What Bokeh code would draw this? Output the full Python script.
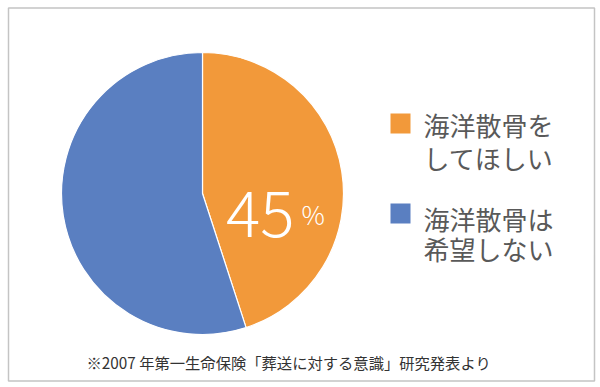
from math import pi
from bokeh.plotting import figure
from bokeh.models import Range1d
from bokeh.core.properties import value
from bokeh.embed import file_html
from bokeh.resources import INLINE

# data
categories = ["海洋散骨をしてほしい", "海洋散骨は希望しない"]
legend_lines = [["海洋散骨を", "してほしい"], ["海洋散骨は", "希望しない"]]
shares = [45, 55]
colors = ["#F2993A", "#5A7FC1"]
label_value = "45"
label_unit = "%"
footnote = "※2007 年第一生命保険「葬送に対する意識」研究発表より"

W, H = 596, 384
FONT = "Noto Sans CJK JP"
LIGHT = "'Noto Sans CJK JP Light', 'Noto Sans CJK JP DemiLight', 'Noto Sans CJK JP', sans-serif"

def X(px):
    return px

def Y(py):
    return H - py

p = figure(width=W, height=H, output_backend="svg", toolbar_location=None,
           x_range=Range1d(0, W), y_range=Range1d(0, H),
           min_border=0, x_axis_type=None, y_axis_type=None)
p.grid.visible = False
p.outline_line_color = None
p.background_fill_color = "white"
p.border_fill_color = "white"

# frame box
p.quad(left=X(8), right=X(594), top=Y(7.5), bottom=Y(380.5),
       fill_color=None, line_color="#C4C4C4", line_width=1.5)

cx, cy, r = X(202), Y(193), 141
# angles clockwise from top
total = sum(shares)
start = pi / 2
for share, col in zip(shares, colors):
    sweep = 2 * pi * share / total
    end = start - sweep
    p.wedge(x=cx, y=cy, radius=r, start_angle=end, end_angle=start,
            direction="anticlock", fill_color=col, line_color="white",
            line_width=1.2)
    start = end

# big label
p.text(x=[X(294)], y=[Y(213)], text=[label_value], text_color="white",
       text_font=value(LIGHT), text_font_size="64px", text_align="right",
       text_baseline="alphabetic", text_font_style="normal")
p.text(x=[X(301)], y=[Y(213)], text=[label_unit], text_color="white",
       text_font=value(LIGHT), text_font_size="26px", text_align="left",
       text_baseline="alphabetic")

# legend
sq_y = [123, 213]
line_y = [[124, 157], [218, 248]]
for i in range(len(categories)):
    p.rect(x=[X(400)], y=[Y(sq_y[i])], width=20, height=20,
           fill_color=colors[i], line_color=None)
    for j, t in enumerate(legend_lines[i]):
        p.text(x=[X(423)], y=[Y(line_y[i][j])], text=[t], text_color="#595959",
               text_font=value(FONT), text_font_size="26px",
               text_align="left", text_baseline="middle")

# footnote
p.text(x=[X(86)], y=[Y(361)], text=[footnote], text_color="#333333",
       text_font=value(FONT), text_font_size="15.3px", text_align="left",
       text_baseline="middle")

open("out.html", "w").write(file_html(p, INLINE))
